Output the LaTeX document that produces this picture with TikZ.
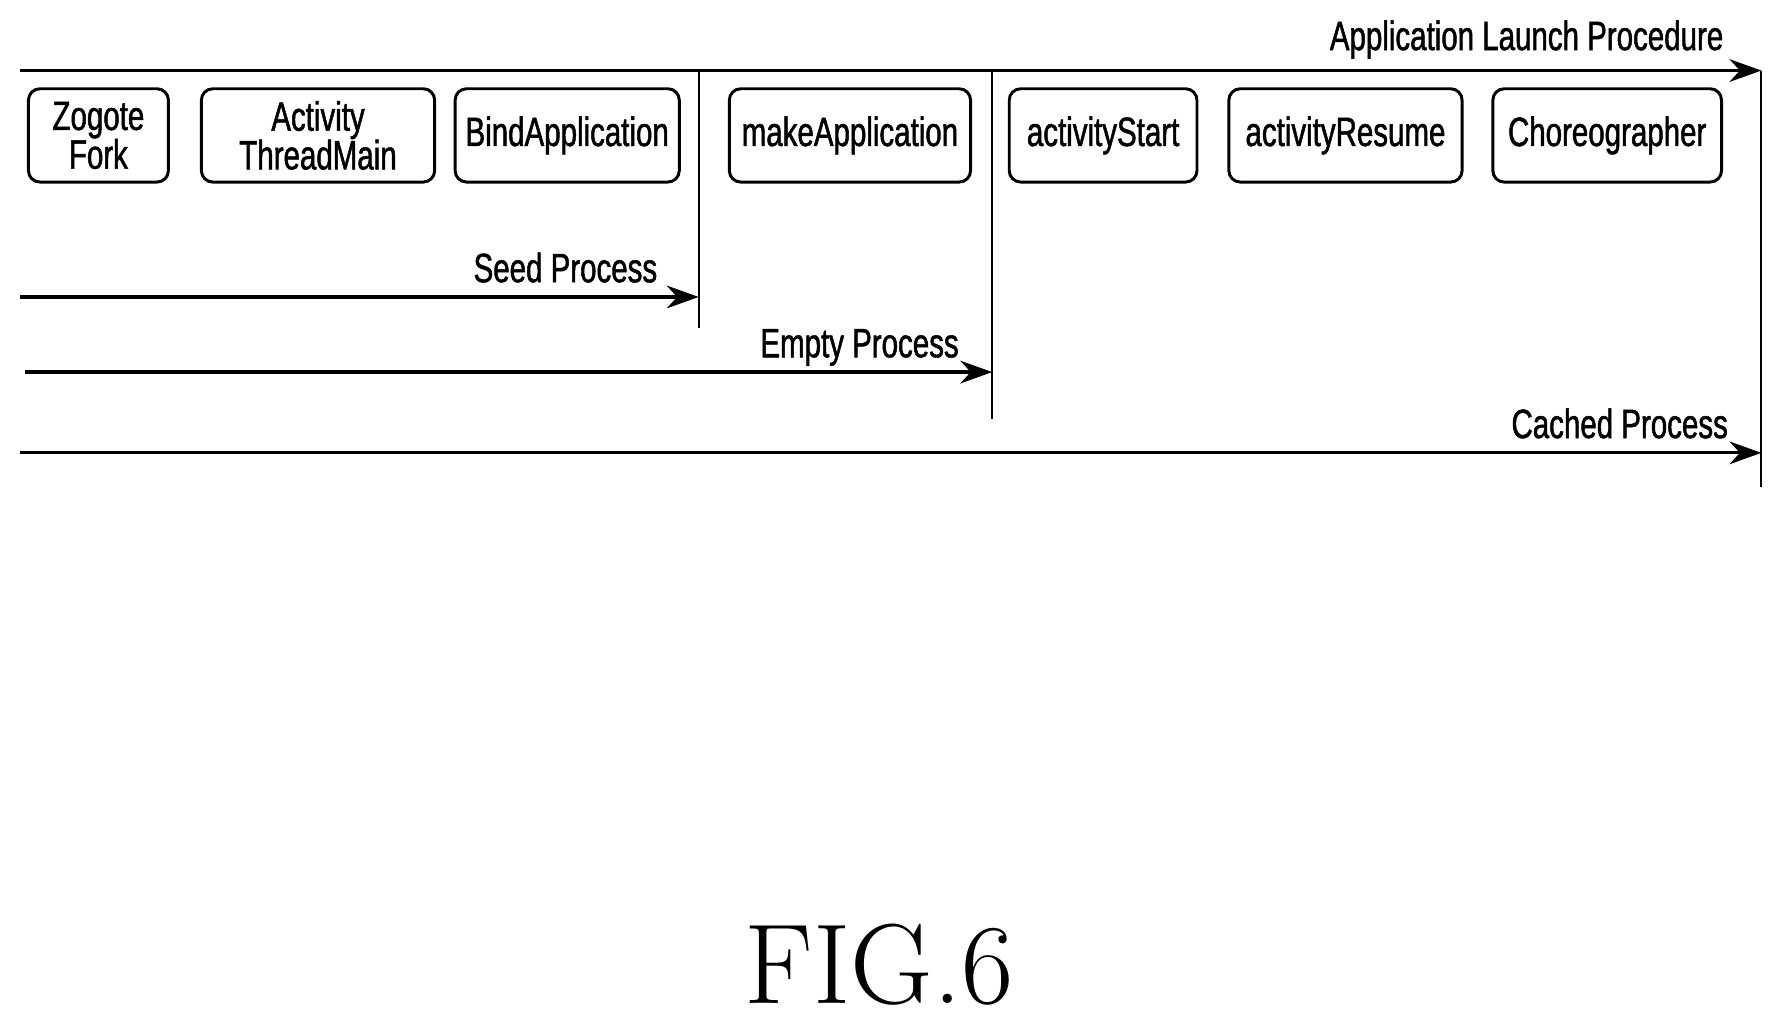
\documentclass[tikz,border=0pt]{standalone}
\usepackage{fontspec}
\newfontfamily\lab{Liberation Sans}[FakeStretch=0.72,FakeBold=1.2]
\usetikzlibrary{arrows.meta}
\begin{document}
\begin{tikzpicture}[x=0.5pt,y=-0.5pt,
  box/.style={draw,line width=1.3pt,rounded corners=5pt,inner sep=0pt,align=center,font=\lab\fontsize{18}{17}\selectfont},
  lbl/.style={font=\lab\fontsize{18}{18}\selectfont,anchor=base east,inner sep=0pt},
  arr/.style={line width=1.4pt,-{Stealth[length=14pt,width=10pt]}},
  vl/.style={line width=0.8pt}]
\useasboundingbox (0,0) rectangle (1560,900);
\coordinate (ts) at (18,62); \coordinate (te) at (1548,62);
\coordinate (s1) at (18,261); \coordinate (s2) at (614,261);
\coordinate (e1) at (22,327); \coordinate (e2) at (872,327);
\coordinate (c1) at (18,398); \coordinate (c2) at (1548,398);
\coordinate (v1a) at (614,62); \coordinate (v1b) at (614,288);
\coordinate (v2a) at (872,62); \coordinate (v2b) at (872,368);
\coordinate (v3a) at (1548,62); \coordinate (v3b) at (1548,428);
\draw[arr] (ts) -- (te);
\draw[arr] (s1) -- (s2);
\draw[arr] (e1) -- (e2);
\draw[arr] (c1) -- (c2);
\draw[vl] (v1a) -- (v1b);
\draw[vl] (v2a) -- (v2b);
\draw[vl] (v3a) -- (v3b);
\node[lbl] (tl) at (1515,44) {Application Launch Procedure};
\node[lbl] (sl) at (578,248) {Seed Process};
\node[lbl] (el) at (843,314) {Empty Process};
\node[lbl] (cl) at (1519,385) {Cached Process};
\node[box,minimum width=61.5pt,minimum height=41pt] (b1) at (86.5,119) {Zogote\\Fork};
\node[box,minimum width=102.5pt,minimum height=41pt] (b2) at (279.5,119) {Activity\\ThreadMain};
\node[box,minimum width=98.5pt,minimum height=41pt] (b3) at (498.5,119) {BindApplication};
\node[box,minimum width=106pt,minimum height=41pt] (b4) at (747,119) {makeApplication};
\node[box,minimum width=82.5pt,minimum height=41pt] (b5) at (969.5,119) {activityStart};
\node[box,minimum width=102.5pt,minimum height=41pt] (b6) at (1182.5,119) {activityResume};
\node[box,minimum width=100.5pt,minimum height=41pt] (b7) at (1412.5,119) {Choreographer};
\node[font=\fontsize{50}{50}\selectfont,inner sep=0pt] (fig) at (773,848) {FIG.6};
\end{tikzpicture}
\end{document}
